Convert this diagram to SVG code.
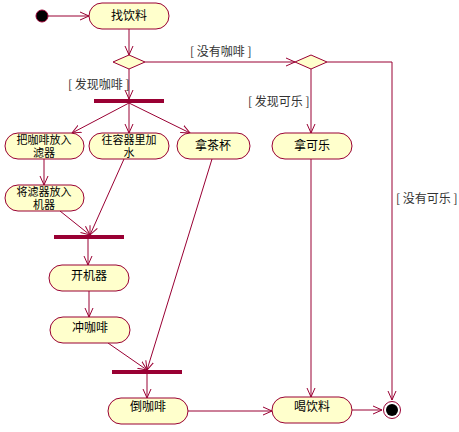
<svg xmlns="http://www.w3.org/2000/svg" width="459" height="432" viewBox="0 0 459 432">
<style>
.n{fill:#ffffcc;stroke:#990033;stroke-width:1}
.t{font-family:"Noto Sans CJK SC",sans-serif;font-size:12px;fill:#000;text-anchor:middle}
.s{font-size:11px}
.l{font-family:"Noto Sans CJK SC",sans-serif;font-size:12px;fill:#333}
.c{stroke:#990033;stroke-width:1;fill:none;marker-end:url(#a)}
.b{fill:#990033}
</style>
<defs><marker id="a" markerWidth="10" markerHeight="10" refX="9" refY="5" orient="auto" markerUnits="userSpaceOnUse"><path d="M0,1 L9,5 L0,9" fill="none" stroke="#990033"/></marker></defs>
<rect width="459" height="432" fill="#fff"/>
<g id="connectors">
<path class="c" d="M48,16 L89,16"/>
<path class="c" d="M129,29 L129,55"/>
<path class="c" d="M129,69 L129,99"/>
<path class="c" d="M145,62 L295,62"/>
<path class="c" d="M129,103 L72,133"/>
<path class="c" d="M129,103 L129,133"/>
<path class="c" d="M129,103 L190,133"/>
<path class="c" d="M44,159 L44,185"/>
<path class="c" d="M60,211 L90,235"/>
<path class="c" d="M124,159 L90,235"/>
<path class="c" d="M88,239 L88,265"/>
<path class="c" d="M89,291 L89,317"/>
<path class="c" d="M108,343 L147,370"/>
<path class="c" d="M212,159 L147,370"/>
<path class="c" d="M147,374 L147,398"/>
<path class="c" d="M311,69 L311,133"/>
<path class="c" d="M311,159 L311,397"/>
<path class="c" d="M327,62 L392,62 L392,400"/>
<path class="c" d="M188,411 L272,411"/>
<path class="c" d="M352,410 L382,410"/>
</g>
<g id="start"><circle cx="42" cy="16" r="6" fill="#000" stroke="#990033"/></g>
<g id="n1"><rect class="n" x="89" y="3" width="80" height="26" rx="13"/><text class="t" x="129" y="20">找饮料</text></g>
<g id="d1"><path class="n" d="M113,62 L129,55 L145,62 L129,69 Z"/></g>
<g id="d2"><path class="n" d="M295,62 L311,55 L327,62 L311,69 Z"/></g>
<g id="bar1"><rect class="b" x="94" y="99" width="70" height="4"/></g>
<g id="n2"><rect class="n" x="5" y="133" width="79" height="26" rx="13"/><text class="t s" x="44" y="144">把咖啡放入<tspan x="44" dy="13">滤器</tspan></text></g>
<g id="n3"><rect class="n" x="89" y="133" width="80" height="26" rx="13"/><text class="t s" x="129" y="144">往容器里加<tspan x="129" dy="13">水</tspan></text></g>
<g id="n4"><rect class="n" x="177" y="133" width="73" height="26" rx="13"/><text class="t" x="213" y="150">拿茶杯</text></g>
<g id="n5"><rect class="n" x="272" y="133" width="80" height="26" rx="13"/><text class="t" x="312" y="150">拿可乐</text></g>
<g id="n6"><rect class="n" x="5" y="185" width="79" height="26" rx="13"/><text class="t s" x="44" y="196">将滤器放入<tspan x="44" dy="13">机器</tspan></text></g>
<g id="bar2"><rect class="b" x="54" y="235" width="70" height="4"/></g>
<g id="n7"><rect class="n" x="49" y="265" width="80" height="26" rx="13"/><text class="t" x="89" y="280">开机器</text></g>
<g id="n8"><rect class="n" x="50" y="317" width="80" height="26" rx="13"/><text class="t" x="90" y="332">冲咖啡</text></g>
<g id="bar3"><rect class="b" x="112" y="370" width="70" height="4"/></g>
<g id="n9"><rect class="n" x="108" y="398" width="80" height="26" rx="13"/><text class="t" x="148" y="411">倒咖啡</text></g>
<g id="n10"><rect class="n" x="272" y="397" width="80" height="26" rx="13"/><text class="t" x="312" y="411">喝饮料</text></g>
<g id="end"><circle cx="392" cy="410" r="8.5" fill="#fff" stroke="#990033"/><circle cx="392" cy="410" r="6" fill="#000"/></g>
<g id="labels">
<text class="l" x="68" y="89">[ 发现咖啡 ]</text>
<text class="l" x="190" y="56">[ 没有咖啡 ]</text>
<text class="l" x="248" y="106">[ 发现可乐 ]</text>
<text class="l" x="396" y="203">[ 没有可乐 ]</text>
</g>
</svg>
